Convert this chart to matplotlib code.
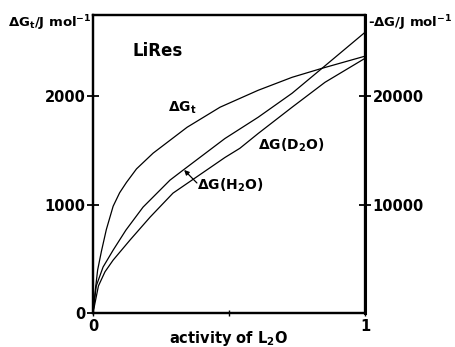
import matplotlib
matplotlib.use("Agg")
import matplotlib.pyplot as plt

plt.rcParams['font.family'] = ['DejaVu Sans']
plt.rcParams['font.weight'] = 'bold'
plt.rcParams['mathtext.default'] = 'regular'

# activity of L2O and dG_t (left axis, J/mol)
a_t = [0, 0.008, 0.017, 0.031, 0.049, 0.074, 0.098, 0.123, 0.16, 0.221, 0.346, 0.467, 0.607, 0.732, 0.842, 1.0]
dG_t = [0, 200, 396, 570, 770, 985, 1110, 1205, 1330, 1475, 1714, 1899, 2055, 2175, 2258, 2370]

# -dG(H2O) (right axis, J/mol)
a_h2o = [0, 0.012, 0.037, 0.074, 0.121, 0.184, 0.283, 0.331, 0.485, 0.607, 0.732, 0.842, 1.0]
dG_h2o = [0, 2500, 4240, 5800, 7650, 9770, 12260, 13180, 16100, 18060, 20280, 22580, 25900]

# -dG(D2O) (right axis, J/mol)
a_d2o = [0, 0.02, 0.044, 0.074, 0.136, 0.21, 0.294, 0.43, 0.485, 0.54, 0.607, 0.732, 0.853, 1.0]
dG_d2o = [0, 2500, 3800, 4880, 6730, 8850, 11060, 13400, 14350, 15200, 16560, 18990, 21290, 23500]

fig = plt.figure(figsize=(4.55, 3.47), dpi=100)
ax = fig.add_axes([0.2044, 0.098, 0.5978, 0.8588])
ax2 = ax.twinx()

ax.plot(a_t, dG_t, color='black', lw=0.9)
ax2.plot(a_h2o, dG_h2o, color='black', lw=0.9)
ax2.plot(a_d2o, dG_d2o, color='black', lw=0.9)

ax.set_xlim(0, 1)
ax.set_ylim(0, 2750)
ax2.set_ylim(0, 27500)

for s in ax.spines.values():
    s.set_linewidth(1.6)
for s in ax2.spines.values():
    s.set_linewidth(1.6)
ax2.spines['right'].set_linewidth(2.2)

ax.set_xticks([0, 0.5, 1])
ax.set_xticklabels(['0', '', '1'])
ax.set_yticks([0, 1000, 2000])
ax.set_yticklabels(['0', '1000', '2000'])
ax2.set_yticks([10000, 20000])
ax2.set_yticklabels(['10000', '20000'])

ax.tick_params(axis='y', direction='inout', length=9, width=1.3, labelsize=10.5, pad=1)
ax.tick_params(axis='x', direction='inout', length=5, width=1.0, labelsize=10.5, pad=2)
ax2.tick_params(axis='y', direction='inout', length=9, width=1.3, labelsize=10.5, pad=1)

# axis titles
ax.text(0.5, -0.084, 'activity of L$_2$O', transform=ax.transAxes,
        ha='center', va='center', fontsize=10.5, fontweight='bold')
ax.text(-0.005, 0.973, 'ΔG$_t$/J mol$^{-1}$', transform=ax.transAxes,
        ha='right', va='center', fontsize=9.5, fontweight='bold')
ax.text(1.01, 0.973, '-ΔG/J mol$^{-1}$', transform=ax.transAxes,
        ha='left', va='center', fontsize=9.5, fontweight='bold')

ax.text(0.147, 2415, 'LiRes', ha='left', va='center', fontsize=12, fontweight='bold')
ax.text(0.276, 1889, 'ΔG$_t$', ha='left', va='center', fontsize=10, fontweight='bold')
ax.text(0.607, 1548, 'ΔG(D$_2$O)', ha='left', va='center', fontsize=10, fontweight='bold')
ax.text(0.382, 1180, 'ΔG(H$_2$O)', ha='left', va='center', fontsize=10, fontweight='bold')
ax.annotate('', xy=(0.335, 1320), xytext=(0.382, 1200),
            arrowprops=dict(arrowstyle='-|>', color='black', lw=0.9,
                            mutation_scale=7, shrinkA=0, shrinkB=0))

fig.savefig('out.png', dpi=100)
